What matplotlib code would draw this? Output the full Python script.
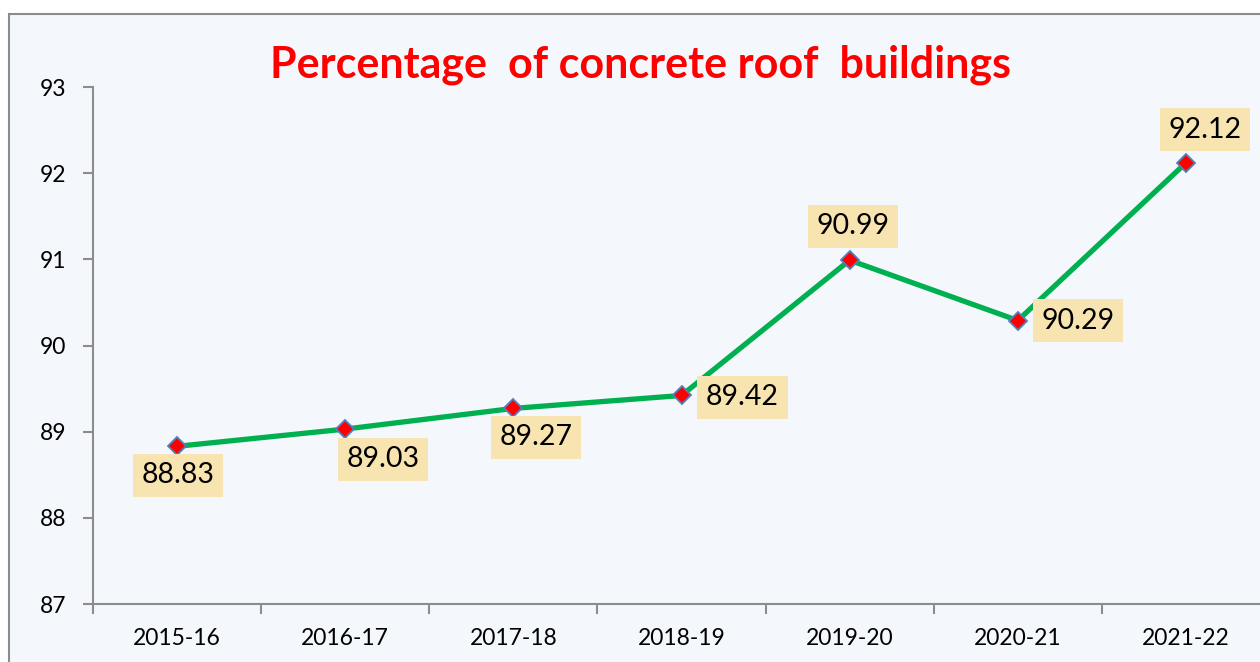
import matplotlib.pyplot as plt
from matplotlib.patches import Rectangle

years = ['2015-16', '2016-17', '2017-18', '2018-19', '2019-20', '2020-21', '2021-22']
pct = [88.83, 89.03, 89.27, 89.42, 90.99, 90.29, 92.12]
yticks = [87, 88, 89, 90, 91, 92, 93]

# label offsets in pixels (dx, dy) from each point
offsets = [(1, -29), (38, -30), (23, -29), (61, -2), (3, 34), (60, 0), (19, 33)]

plt.rcParams['font.family'] = ['Lato', 'DejaVu Sans']

fig = plt.figure(figsize=(12.6, 6.62), dpi=100, facecolor='white')

# chart frame
frame = Rectangle((9 / 1260, -0.2), 1.2, 0.2 + 1 - 14 / 662, transform=fig.transFigure,
                  facecolor='#f4f7fb', edgecolor='#8c8c8c', linewidth=1.5, zorder=-5)
fig.patches.append(frame)

ax = fig.add_axes([93 / 1260, 1 - 604 / 662, (1270 - 93) / 1260, (604 - 87) / 662])
ax.set_facecolor('none')
ax.set_zorder(2)

x = list(range(len(years)))
ax.plot(x, pct, color='#00b050', linewidth=3.8, marker='D', markersize=9,
        markerfacecolor='#ff0000', markeredgecolor='#4f81bd', markeredgewidth=1.3,
        zorder=3, clip_on=False)

for xi, v, (dx, dy) in zip(x, pct, offsets):
    ax.annotate(f'{v:.2f}', (xi, v), xytext=(dx, dy), textcoords='offset pixels',
                ha='center', va='center', fontsize=20.5, color='black', zorder=4,
                bbox=dict(boxstyle='square,pad=0.3', facecolor='#f8e4b0', edgecolor='none'))

ax.set_xlim(-0.5, 6.5)
ax.set_ylim(87, 93)
ax.set_yticks(yticks)
ax.tick_params(axis='y', direction='out', length=7, width=1.5, color='#8c8c8c',
               labelsize=16.5, pad=12)

ax.set_xticks(x)
ax.set_xticklabels(years)
ax.tick_params(axis='x', which='major', length=0, labelsize=16.5, pad=17)
ax.set_xticks([i + 0.5 for i in range(-1, len(years))], minor=True)
ax.tick_params(axis='x', which='minor', direction='out', length=7, width=1.5, color='#8c8c8c')

for s in ['top', 'right']:
    ax.spines[s].set_visible(False)
for s in ['left', 'bottom']:
    ax.spines[s].set_color('#8c8c8c')
    ax.spines[s].set_linewidth(1.5)

fig.text(640 / 1260, 1 - 65 / 662, 'Percentage  of concrete roof  buildings',
         ha='center', va='center', fontsize=31, fontweight='bold', color='#ff0000')

fig.savefig('out.png', dpi=100, facecolor='white')
